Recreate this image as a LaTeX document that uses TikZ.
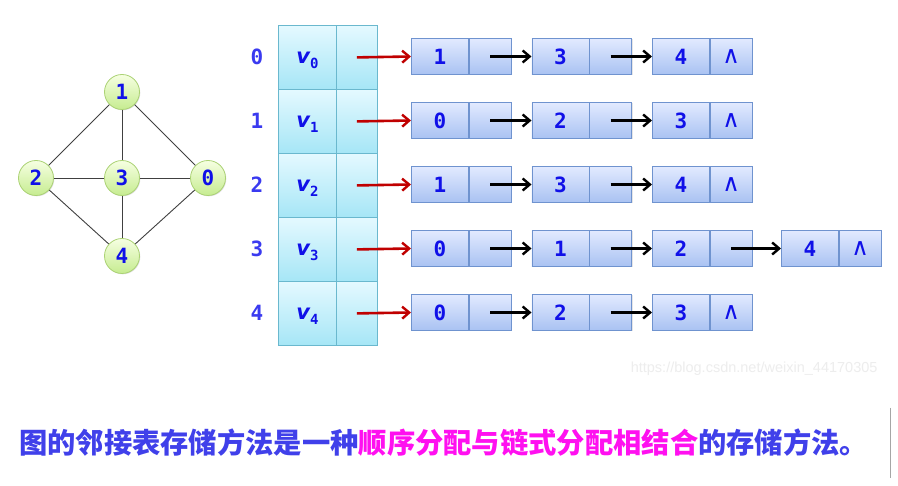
\documentclass[tikz,border=0pt]{standalone}
\usepackage{fontspec}
\usetikzlibrary{arrows.meta,shadows}
\setmainfont{DejaVu Sans}
\newfontfamily\digitfont{DejaVu Sans Mono}
\newfontfamily\vfont{DejaVu Sans}
\newfontfamily\cjk{Noto Sans CJK SC}
\newfontfamily\wmfont{Liberation Sans}
\definecolor{digblue}{HTML}{1010E8}
\definecolor{idxblue}{HTML}{3A3AF0}
\definecolor{tabT}{HTML}{E4F9FF}
\definecolor{tabB}{HTML}{A6E6F6}
\definecolor{tabD}{HTML}{6AB8CE}
\definecolor{lstT}{HTML}{E2EAFF}
\definecolor{lstB}{HTML}{A9C2F2}
\definecolor{lstD}{HTML}{6F93CF}
\definecolor{grT}{HTML}{F6FFE2}
\definecolor{grB}{HTML}{C6EC90}
\definecolor{grD}{HTML}{ABD274}
\definecolor{redarr}{HTML}{C00000}
\definecolor{txtblue}{HTML}{4040EA}
\definecolor{txtmag}{HTML}{FF10F0}
\begin{document}
\begin{tikzpicture}[x=1pt,y=-1pt,
  dig/.style={font=\digitfont\bfseries\fontsize{21}{21}\selectfont, text=digblue},
  gnode/.style={circle, draw=grD, line width=0.8pt, top color=grT, bottom color=grB,
     minimum size=35pt, inner sep=0pt, dig, drop shadow={shadow xshift=0.8pt, shadow yshift=-0.8pt, opacity=0.25}},
  gedge/.style={draw=black!75, line width=0.9pt},
  vcell/.style={draw=tabD, line width=0.8pt, top color=tabT, bottom color=tabB,
     minimum height=64pt, inner sep=0pt, anchor=north west},
  vdat/.style={vcell, minimum width=58pt},
  vptr/.style={vcell, minimum width=41pt},
  lcell/.style={draw=lstD, line width=0.8pt, top color=lstT, bottom color=lstB,
     minimum height=36pt, inner sep=0pt, anchor=west, dig,
     drop shadow={shadow xshift=1pt, shadow yshift=-1pt, opacity=0.2}},
  ldat/.style={lcell, minimum width=57pt},
  lptr/.style={lcell, minimum width=42pt},
  idx/.style={font=\digitfont\bfseries\fontsize{21}{21}\selectfont, text=idxblue},
  nullt/.style={font=\vfont\fontsize{24}{24}\selectfont, text=digblue},
  redar/.style={draw=redarr, line width=2.6pt, -{Straight Barb[length=7pt,width=12pt,line width=2.4pt]}},
  blkar/.style={draw=black, line width=2.6pt, -{Straight Barb[length=7pt,width=12pt,line width=2.4pt]}}
]
\useasboundingbox (0,0) rectangle (898,486);
\fill[white] (0,0) rectangle (898,486);

% graph
\node[gnode] (g1) at (122,92) {1};
\node[gnode] (g2) at (36,178) {2};
\node[gnode] (g3) at (122,178) {3};
\node[gnode] (g0) at (208,178) {0};
\node[gnode] (g4) at (122,256) {4};
\draw[gedge] (g1) -- (g2);
\draw[gedge] (g1) -- (g3);
\draw[gedge] (g1) -- (g0);
\draw[gedge] (g2) -- (g3);
\draw[gedge] (g3) -- (g0);
\draw[gedge] (g2) -- (g4);
\draw[gedge] (g3) -- (g4);
\draw[gedge] (g0) -- (g4);

% vertex table
\foreach \r in {0,...,4} {
  \pgfmathsetmacro\ty{25+64*\r}
  \node[vdat] (vd\r) at (278,\ty) {};
  \node[vptr] (vp\r) at (336,\ty) {};
  \node[font=\vfont\bfseries\itshape\fontsize{21}{21}\selectfont, text=digblue, inner sep=0pt]
     at ([yshift=-3pt]vd\r.center) {v\raisebox{-0.4ex}{\digitfont\bfseries\upshape\fontsize{14}{14}\selectfont\r}};
  \node[idx] (ix\r) at (257,{57+64*\r}) {\r};
}

% adjacency lists
\foreach \r/\items in {0/{1,3,4}, 1/{0,2,3}, 2/{1,3,4}, 3/{0,1,2,4}, 4/{0,2,3}} {
  \foreach \v [count=\c] in \items {
    \pgfmathsetmacro\xx{\c==4 ? 781 : 411+120.5*(\c-1)}
    \pgfmathsetmacro\yy{56.5+64*\r}
    \node[ldat] (d\r\c) at (\xx,\yy) {\v};
    \node[lptr] (p\r\c) at (d\r\c.east) {};
  }
}
\foreach \r/\n in {0/3,1/3,2/3,3/4,4/3} {
  \node[nullt] (nl\r) at (p\r\n) {∧};
}
\foreach \r in {0,...,4} {
  \draw[redar] (vp\r.center) -- (d\r1.west);
}
\foreach \r/\n in {0/3,1/3,2/3,3/4,4/3} {
  \foreach \c in {2,...,\n} {
    \pgfmathtruncatemacro\pc{\c-1}
    \draw[blkar] (p\r\pc.center) -- (d\r\c.west);
  }
}

% watermark
\node[font=\wmfont\fontsize{14.5}{14.5}\selectfont, text=black!7, anchor=east] (wm) at (881,369) {https://blog.csdn.net/weixin\_44170305};

% caption
\node[anchor=west, inner sep=0pt, font=\cjk\bfseries\fontsize{28.3}{28.3}\selectfont] (cap) at (19,443)
  {\textcolor{txtblue}{图的邻接表存储方法是一种}\textcolor{txtmag}{顺序分配与链式分配相结合}\textcolor{txtblue}{的存储方法。}};
\coordinate (ls) at (890,408);
\coordinate (le) at (890,478);
\draw[black!35, line width=1pt] (ls) -- (le);
\end{tikzpicture}
\end{document}
